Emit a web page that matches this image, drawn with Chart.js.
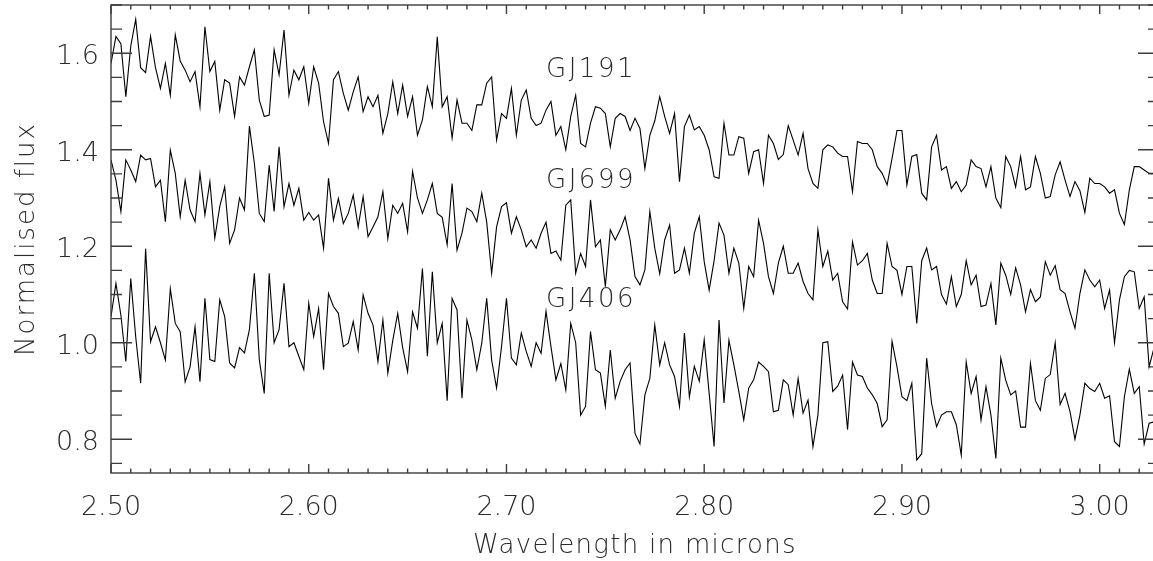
<!DOCTYPE html>
<html lang="en">
<head>
<meta charset="UTF-8">
<title>Normalised flux</title>
<script src="https://cdn.jsdelivr.net/npm/chart.js"></script>
<style>
  html, body { margin: 0; padding: 0; background: #fff; overflow: hidden; }
  #wrap { width: 1153px; height: 561px; overflow: hidden; }
</style>
</head>
<body>
<div id="wrap"><canvas id="spectra" width="1166" height="561"></canvas></div>
<script>
// spectra are sampled on a regular wavelength grid (microns)
const lambdaStart = 2.5;
const lambdaStep = 0.0025;

const gj191 = [
  1.579,1.635,1.62,1.51,1.615,1.67,1.57,1.56,1.635,1.57,
  1.527,1.579,1.513,1.638,1.584,1.565,1.541,1.562,1.489,1.655,
  1.562,1.583,1.482,1.545,1.538,1.469,1.551,1.534,1.572,1.607,
  1.503,1.469,1.472,1.607,1.555,1.648,1.513,1.565,1.545,1.572,
  1.496,1.572,1.538,1.458,1.413,1.545,1.562,1.517,1.482,1.52,
  1.551,1.479,1.51,1.489,1.513,1.434,1.475,1.541,1.475,1.534,
  1.469,1.51,1.43,1.462,1.531,1.489,1.634,1.489,1.51,1.424,
  1.503,1.455,1.455,1.44,1.493,1.493,1.538,1.551,1.42,1.475,
  1.465,1.527,1.43,1.503,1.524,1.465,1.45,1.455,1.482,1.50,
  1.43,1.448,1.40,1.469,1.513,1.413,1.406,1.455,1.489,1.486,
  1.475,1.406,1.465,1.475,1.469,1.44,1.465,1.444,1.361,1.43,
  1.46,1.51,1.469,1.434,1.475,1.334,1.448,1.472,1.441,1.448,
  1.43,1.40,1.344,1.341,1.455,1.389,1.389,1.427,1.424,1.351,
  1.396,1.40,1.33,1.43,1.413,1.38,1.39,1.45,1.42,1.389,
  1.434,1.361,1.33,1.32,1.40,1.41,1.406,1.393,1.386,1.386,
  1.313,1.417,1.413,1.413,1.40,1.365,1.351,1.327,1.382,1.44,
  1.44,1.327,1.386,1.39,1.31,1.296,1.406,1.43,1.358,1.365,
  1.32,1.334,1.313,1.327,1.379,1.365,1.361,1.323,1.365,1.30,
  1.28,1.386,1.365,1.323,1.386,1.317,1.323,1.386,1.351,1.30,
  1.303,1.348,1.375,1.337,1.303,1.334,1.315,1.27,1.341,1.33,
  1.33,1.323,1.31,1.317,1.268,1.245,1.317,1.365,1.365,1.358,
  1.351,1.351
];

const gj699 = [
  1.379,1.337,1.272,1.379,1.358,1.334,1.389,1.379,1.382,1.323,
  1.337,1.251,1.399,1.351,1.261,1.337,1.275,1.251,1.351,1.265,
  1.334,1.217,1.282,1.323,1.206,1.234,1.30,1.275,1.449,1.372,
  1.268,1.251,1.368,1.272,1.406,1.282,1.330,1.285,1.320,1.254,
  1.27,1.254,1.265,1.196,1.341,1.254,1.299,1.247,1.268,1.306,
  1.24,1.303,1.22,1.24,1.261,1.313,1.216,1.285,1.268,1.289,
  1.23,1.355,1.30,1.268,1.296,1.33,1.268,1.26,1.203,1.33,
  1.192,1.227,1.279,1.272,1.251,1.31,1.25,1.144,1.24,1.282,
  1.29,1.227,1.261,1.234,1.199,1.213,1.196,1.227,1.25,1.185,
  1.19,1.171,1.285,1.296,1.144,1.185,1.158,1.296,1.199,1.213,
  1.116,1.234,1.213,1.234,1.261,1.213,1.137,1.12,1.151,1.272,
  1.196,1.143,1.213,1.244,1.144,1.151,1.196,1.144,1.227,1.261,
  1.168,1.109,1.17,1.248,1.223,1.144,1.196,1.165,1.071,1.158,
  1.137,1.254,1.206,1.137,1.102,1.165,1.20,1.144,1.144,1.165,
  1.127,1.102,1.089,1.234,1.158,1.19,1.13,1.144,1.085,1.07,
  1.209,1.161,1.17,1.185,1.13,1.102,1.102,1.206,1.158,1.15,
  1.10,1.158,1.158,1.04,1.17,1.196,1.151,1.158,1.10,1.08,
  1.137,1.075,1.10,1.17,1.12,1.14,1.075,1.078,1.123,1.037,
  1.165,1.14,1.10,1.155,1.12,1.064,1.11,1.085,1.095,1.168,
  1.14,1.16,1.11,1.102,1.064,1.03,1.102,1.151,1.13,1.116,
  1.13,1.071,1.109,1.0,1.089,1.137,1.15,1.147,1.071,1.095,
  0.95,0.99
];

const gj406 = [
  1.054,1.123,1.057,0.961,1.133,1.012,0.916,1.195,1.002,1.033,
  1.000,0.964,1.112,1.04,1.023,0.919,0.95,1.033,0.919,1.092,
  0.965,0.961,1.089,1.054,0.958,0.948,0.990,0.979,1.027,1.144,
  0.965,0.895,1.144,1.0,1.027,1.123,0.992,1.0,0.972,0.944,
  1.082,1.013,1.071,0.944,1.102,1.075,1.061,0.992,0.999,1.044,
  0.985,1.099,1.061,1.037,0.961,1.047,0.937,1.005,1.061,0.99,
  0.94,1.064,1.03,1.154,0.972,1.147,1.0,1.04,0.88,1.092,
  1.068,0.885,1.047,1.006,0.944,0.999,1.092,0.964,0.906,0.992,
  1.092,0.968,0.954,1.02,0.982,0.951,1.0,0.978,1.065,0.992,
  0.923,0.957,0.902,1.04,1.0,0.85,0.868,1.023,0.944,0.937,
  0.868,0.985,0.885,0.92,0.944,0.958,0.812,0.79,0.892,0.926,
  1.037,0.954,1.0,0.954,0.93,0.868,1.02,0.888,0.951,0.92,
  1.006,0.895,0.785,1.047,0.875,1.005,0.954,0.899,0.84,0.906,
  0.923,0.96,0.951,0.94,0.857,0.86,0.923,0.913,0.85,0.926,
  0.854,0.881,0.785,0.85,1.0,1.002,0.899,0.91,0.933,0.82,
  0.96,0.933,0.93,0.906,0.892,0.874,0.826,0.84,1.003,0.95,
  0.888,0.88,0.916,0.757,0.77,0.968,0.874,0.826,0.85,0.857,
  0.857,0.83,0.767,0.96,0.895,0.93,0.84,0.909,0.85,0.76,
  0.968,0.922,0.892,0.90,0.825,0.825,0.957,0.88,0.86,0.926,
  0.934,1.0,0.872,0.895,0.857,0.80,0.85,0.916,0.905,0.899,
  0.916,0.885,0.89,0.795,0.785,0.888,0.945,0.895,0.909,0.79,
  0.833,0.836
];

// star names written next to each spectrum (data coords of the text baseline start)
const starNames = ["GJ191", "GJ699", "GJ406"];
const nameX = [2.72, 2.72, 2.72];
const nameY = [1.551, 1.321, 1.074];

const xTicks = [2.5, 2.6, 2.7, 2.8, 2.9, 3.0];
const xTickLabels = ["2.50", "2.60", "2.70", "2.80", "2.90", "3.00"];
const yTicks = [0.8, 1.0, 1.2, 1.4, 1.6];
const yTickLabels = ["0.8", "1.0", "1.2", "1.4", "1.6"];
const xMinorStep = 0.01;
const yMinorStep = 0.05;

const FONT = '"DejaVu Sans", "Liberation Sans", sans-serif';
const INK = "#2b2b2b";

function toPoints(values) {
  return values.map((v, i) => ({ x: lambdaStart + i * lambdaStep, y: v }));
}

function isMajor(v, list) {
  return list.some(t => Math.abs(t - v) < 1e-6);
}

// IDL style frame: inward ticks on all four sides, labels outside
const idlAxes = {
  id: "idlAxes",
  afterDatasetsDraw(chart) {
    const { ctx, chartArea: a, scales: { x, y } } = chart;
    ctx.save();
    ctx.strokeStyle = "#3c3c3c";
    ctx.lineWidth = 1.4;
    ctx.strokeRect(a.left, a.top, a.right - a.left, a.bottom - a.top);

    ctx.beginPath();
    for (let k = 0; ; k++) {
      const v = +(x.min + k * xMinorStep).toFixed(4);
      if (v > x.max) break;
      const px = x.getPixelForValue(v);
      const len = isMajor(v, xTicks) ? 9 : 4.5;
      ctx.moveTo(px, a.bottom); ctx.lineTo(px, a.bottom - len);
      ctx.moveTo(px, a.top); ctx.lineTo(px, a.top + len);
    }
    for (let k = Math.ceil(y.min / yMinorStep); ; k++) {
      const v = +(k * yMinorStep).toFixed(4);
      if (v > y.max) break;
      const py = y.getPixelForValue(v);
      const len = isMajor(v, yTicks) ? 21 : 11;
      ctx.moveTo(a.left, py); ctx.lineTo(a.left + len, py);
      ctx.moveTo(a.right, py); ctx.lineTo(a.right - len, py);
    }
    ctx.stroke();

    ctx.fillStyle = INK;
    ctx.font = "200 27px " + FONT;
    ctx.letterSpacing = "0px";
    ctx.textBaseline = "alphabetic";

    ctx.textAlign = "right";
    yTicks.forEach((v, i) => {
      ctx.fillText(yTickLabels[i], a.left - 12, y.getPixelForValue(v) + 11);
    });

    ctx.textAlign = "center";
    xTicks.forEach((v, i) => {
      ctx.fillText(xTickLabels[i], x.getPixelForValue(v), a.bottom + 42);
    });

    ctx.font = "200 26px " + FONT;
    ctx.letterSpacing = "1.3px";
    ctx.fillText("Wavelength in microns", (a.left + a.right) / 2, a.bottom + 80);

    ctx.save();
    ctx.translate(34, (a.top + a.bottom) / 2);
    ctx.rotate(-Math.PI / 2);
    ctx.letterSpacing = "2px";
    ctx.fillText("Normalised flux", 0, 0);
    ctx.restore();

    ctx.textAlign = "left";
    ctx.letterSpacing = "2.5px";
    starNames.forEach((name, i) => {
      ctx.fillText(name, x.getPixelForValue(nameX[i]), y.getPixelForValue(nameY[i]));
    });
    ctx.restore();
  }
};

const ctx = document.getElementById("spectra").getContext("2d");
new Chart(ctx, {
  type: "line",
  data: {
    datasets: [gj191, gj699, gj406].map((vals, k) => ({
      label: starNames[k],
      data: toPoints(vals),
      borderColor: "#000",
      borderWidth: 1.1,
      pointRadius: 0,
      tension: 0,
      fill: false
    }))
  },
  options: {
    responsive: false,
    animation: false,
    devicePixelRatio: 1,
    layout: { padding: { left: 111, right: 7, top: 5, bottom: 88 } },
    plugins: { legend: { display: false }, tooltip: { enabled: false } },
    scales: {
      x: { type: "linear", min: 2.5, max: 3.03, display: false },
      y: { type: "linear", min: 0.73, max: 1.70, display: false }
    }
  },
  plugins: [idlAxes]
});
</script>
</body>
</html>
